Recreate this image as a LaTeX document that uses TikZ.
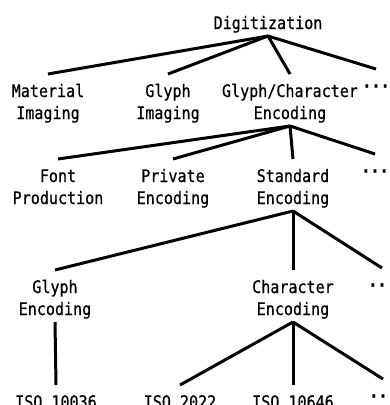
\documentclass[tikz,border=0pt]{standalone}
\usepackage{fontspec}
\usepackage{tikz}
\usetikzlibrary{positioning}
\newfontfamily\gothic[FakeStretch=0.87, FakeBold=0.6]{DejaVu Sans Mono}
\newcommand{\topgap}{\rule{0pt}{23pt}}
\newcommand{\botgap}{\rule[-7pt]{0pt}{7pt}}

\begin{document}
\begin{tikzpicture}[
      x=1pt, y=-1pt,
      nodes={
        font=\gothic\fontsize{17.3pt}{22pt}\selectfont,
        align=center, inner sep=0pt, outer sep=0pt
      },
      etc/.style={font=\gothic\bfseries\fontsize{17.3pt}{22pt}\selectfont},
      line width=3pt
      ]
  \useasboundingbox (0,0) rectangle (389,405);
  \clip (0,0) rectangle (389,405);

  % Define nodes
  \node[anchor=south] at (268,36) (dig) {\topgap Digitization\botgap};

  \node[below=38pt of dig, xshift=-220pt]      (mat)   {\topgap Material\\Imaging\botgap};
  \node[below=38pt of dig, xshift=-100pt]      (gim)   {\topgap Glyph\\Imaging\botgap};
  \node[below=38pt of dig, xshift=22pt]        (gce)   {\topgap Glyph/Character\\Encoding\botgap};
  \node[etc, below=33pt of dig, xshift=108pt]  (more1) {\topgap ···\botgap};

  \node[below=33pt of gce, xshift=-232pt]      (fnt)   {\topgap Font\\Production\botgap};
  \node[below=33pt of gce, xshift=-117pt]      (prv)   {\topgap Private\\Encoding\botgap};
  \node[below=33pt of gce, xshift=3pt]         (std)   {\topgap Standard\\Encoding\botgap};
  \node[etc, below=28pt of gce, xshift=85pt]   (more2) {\topgap ···\botgap};

  \node[below=59pt of std, xshift=-238pt]      (gly)   {\topgap Glyph\\Encoding\botgap};
  \node[below=59pt of std]                     (chr)   {\topgap Character\\Encoding\botgap};
  \node[etc, below=57pt of std, xshift=89pt]   (more3) {\topgap ···\botgap};

  \node[below=63pt of gly, xshift=1pt]         (iso1)  {\topgap ISO 10036\botgap};
  \node[below=63pt of chr, xshift=-113pt]      (iso2)  {\topgap ISO 2022\botgap};
  \node[below=63pt of chr]                     (iso3)  {\topgap ISO 10646\botgap};
  \node[etc, below=57pt of chr, xshift=90pt]   (more4) {\topgap ···\botgap};

  % Connect the nodes
  \foreach \n in {mat,gim,gce,more1} \draw (dig.south) -- (\n.north);
  \foreach \n in {fnt,prv,std,more2} \draw (gce.south) -- (\n.north);
  \foreach \n in {gly,chr,more3} \draw (std.south) -- (\n.north);
  \draw (gly.south) -- (iso1.north);
  \foreach \n in {iso2,iso3,more4} \draw (chr.south) -- (\n.north);

\end{tikzpicture}
\end{document}
